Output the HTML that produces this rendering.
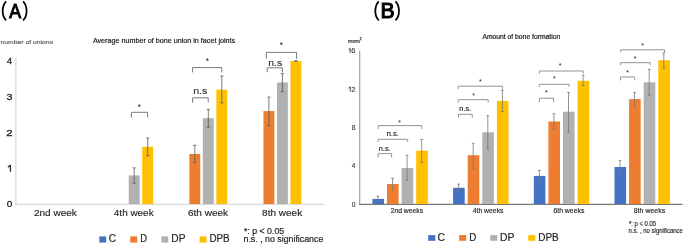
<!DOCTYPE html>
<html><head><meta charset="utf-8"><style>
html,body{margin:0;padding:0;background:#fff;width:685px;height:246px;overflow:hidden}
svg{display:block;font-family:"Liberation Sans",sans-serif}
svg{will-change:transform}
</style></head><body>
<svg width="685" height="246" viewBox="0 0 685 246">
<line x1="15.80" y1="57.80" x2="15.80" y2="204.20" stroke="#e2e2e2" stroke-width="1.7"/>
<line x1="15.00" y1="204.40" x2="323.50" y2="204.40" stroke="#d9d9d9" stroke-width="1.1"/>
<text x="6.66" y="207.45" font-size="9.3" fill="#262626" font-weight="normal" stroke="#262626" stroke-width="0.3" textLength="5.58" lengthAdjust="spacingAndGlyphs">0</text>
<path d="M10.45 165.00 V171.70 M10.6 165.10 L7.9 167.30" stroke="#262626" stroke-width="1.25" fill="none"/>
<text x="6.28" y="135.95" font-size="9.3" fill="#262626" font-weight="normal" stroke="#262626" stroke-width="0.3" textLength="6.34" lengthAdjust="spacingAndGlyphs">2</text>
<text x="6.64" y="100.20" font-size="9.3" fill="#262626" font-weight="normal" stroke="#262626" stroke-width="0.3" textLength="5.98" lengthAdjust="spacingAndGlyphs">3</text>
<text x="6.73" y="64.45" font-size="9.3" fill="#262626" font-weight="normal" stroke="#262626" stroke-width="0.3" textLength="5.41" lengthAdjust="spacingAndGlyphs">4</text>
<rect x="128.75" y="175.40" width="10.90" height="28.60" fill="#B1B1B1"/>
<rect x="142.25" y="146.80" width="10.90" height="57.20" fill="#FFC000"/>
<rect x="189.35" y="153.95" width="10.90" height="50.05" fill="#ED7D31"/>
<rect x="202.85" y="118.20" width="10.90" height="85.80" fill="#B1B1B1"/>
<rect x="216.35" y="89.60" width="10.90" height="114.40" fill="#FFC000"/>
<rect x="263.45" y="111.05" width="10.90" height="92.95" fill="#ED7D31"/>
<rect x="276.95" y="82.45" width="10.90" height="121.55" fill="#B1B1B1"/>
<rect x="290.45" y="61.00" width="10.90" height="143.00" fill="#FFC000"/>
<line x1="134.20" y1="167.90" x2="134.20" y2="183.20" stroke="#595959" stroke-width="0.8"/>
<line x1="132.60" y1="167.90" x2="135.80" y2="167.90" stroke="#595959" stroke-width="0.8"/>
<line x1="132.60" y1="183.20" x2="135.80" y2="183.20" stroke="#595959" stroke-width="0.8"/>
<line x1="147.70" y1="138.00" x2="147.70" y2="155.70" stroke="#595959" stroke-width="0.8"/>
<line x1="146.10" y1="138.00" x2="149.30" y2="138.00" stroke="#595959" stroke-width="0.8"/>
<line x1="146.10" y1="155.70" x2="149.30" y2="155.70" stroke="#595959" stroke-width="0.8"/>
<line x1="194.80" y1="145.30" x2="194.80" y2="162.60" stroke="#595959" stroke-width="0.8"/>
<line x1="193.20" y1="145.30" x2="196.40" y2="145.30" stroke="#595959" stroke-width="0.8"/>
<line x1="193.20" y1="162.60" x2="196.40" y2="162.60" stroke="#595959" stroke-width="0.8"/>
<line x1="208.30" y1="109.40" x2="208.30" y2="127.30" stroke="#595959" stroke-width="0.8"/>
<line x1="206.70" y1="109.40" x2="209.90" y2="109.40" stroke="#595959" stroke-width="0.8"/>
<line x1="206.70" y1="127.30" x2="209.90" y2="127.30" stroke="#595959" stroke-width="0.8"/>
<line x1="221.80" y1="75.90" x2="221.80" y2="102.90" stroke="#595959" stroke-width="0.8"/>
<line x1="220.20" y1="75.90" x2="223.40" y2="75.90" stroke="#595959" stroke-width="0.8"/>
<line x1="220.20" y1="102.90" x2="223.40" y2="102.90" stroke="#595959" stroke-width="0.8"/>
<line x1="268.90" y1="97.10" x2="268.90" y2="125.60" stroke="#595959" stroke-width="0.8"/>
<line x1="267.30" y1="97.10" x2="270.50" y2="97.10" stroke="#595959" stroke-width="0.8"/>
<line x1="267.30" y1="125.60" x2="270.50" y2="125.60" stroke="#595959" stroke-width="0.8"/>
<line x1="282.40" y1="73.70" x2="282.40" y2="91.60" stroke="#595959" stroke-width="0.8"/>
<line x1="280.80" y1="73.70" x2="284.00" y2="73.70" stroke="#595959" stroke-width="0.8"/>
<line x1="280.80" y1="91.60" x2="284.00" y2="91.60" stroke="#595959" stroke-width="0.8"/>
<line x1="295.90" y1="61.00" x2="295.90" y2="61.00" stroke="#595959" stroke-width="0.8"/>
<line x1="294.30" y1="61.00" x2="297.50" y2="61.00" stroke="#595959" stroke-width="0.8"/>
<line x1="294.30" y1="61.00" x2="297.50" y2="61.00" stroke="#595959" stroke-width="0.8"/>
<path d="M131.40 117.50 V112.30 H147.60 V117.50" fill="none" stroke="#7a7a7a" stroke-width="1.0"/>
<text x="139.50" y="110.36" font-size="8.5" fill="#1a1a1a" font-weight="normal" text-anchor="middle">*</text>
<path d="M192.60 102.60 V97.80 H208.20 V102.60" fill="none" stroke="#7a7a7a" stroke-width="1.0"/>
<text x="193.15" y="93.90" font-size="9.8" fill="#262626" font-weight="normal" stroke="#262626" stroke-width="0.1" textLength="14.18" lengthAdjust="spacingAndGlyphs">n.s</text>
<path d="M192.60 72.40 V67.60 H221.80 V72.40" fill="none" stroke="#7a7a7a" stroke-width="1.0"/>
<text x="207.40" y="63.96" font-size="8.5" fill="#1a1a1a" font-weight="normal" text-anchor="middle">*</text>
<path d="M267.20 72.30 V67.80 H282.40 V72.30" fill="none" stroke="#7a7a7a" stroke-width="1.0"/>
<text x="268.16" y="65.60" font-size="9.8" fill="#262626" font-weight="normal" stroke="#262626" stroke-width="0.1" textLength="13.97" lengthAdjust="spacingAndGlyphs">n.s</text>
<path d="M266.30 58.80 V52.40 H296.60 V58.80" fill="none" stroke="#7a7a7a" stroke-width="1.0"/>
<text x="281.40" y="48.46" font-size="8.5" fill="#1a1a1a" font-weight="normal" text-anchor="middle">*</text>
<text x="33.97" y="215.50" font-size="9.7" fill="#262626" font-weight="normal" stroke="#262626" stroke-width="0.15" textLength="42.84" lengthAdjust="spacingAndGlyphs">2nd week</text>
<text x="113.85" y="215.50" font-size="9.7" fill="#262626" font-weight="normal" stroke="#262626" stroke-width="0.15" textLength="39.77" lengthAdjust="spacingAndGlyphs">4th week</text>
<text x="187.96" y="215.50" font-size="9.7" fill="#262626" font-weight="normal" stroke="#262626" stroke-width="0.15" textLength="40.16" lengthAdjust="spacingAndGlyphs">6th week</text>
<text x="262.14" y="215.50" font-size="9.7" fill="#262626" font-weight="normal" stroke="#262626" stroke-width="0.15" textLength="40.08" lengthAdjust="spacingAndGlyphs">8th week</text>
<text x="92.89" y="42.70" font-size="7.3" fill="#1a1a1a" font-weight="normal" stroke="#1a1a1a" stroke-width="0.2" textLength="142.27" lengthAdjust="spacingAndGlyphs">Average number of bone union in facet joints</text>
<text x="0.53" y="44.40" font-size="6.1" fill="#595959" font-weight="normal" stroke="#595959" stroke-width="0.15" textLength="52.54" lengthAdjust="spacingAndGlyphs">number of unions</text>
<rect x="99.30" y="236.40" width="6.90" height="6.20" fill="#4472C4"/>
<text x="108.78" y="242.40" font-size="10.0" fill="#262626" font-weight="normal" stroke="#262626" stroke-width="0.2" textLength="7.30" lengthAdjust="spacingAndGlyphs">C</text>
<rect x="130.30" y="236.40" width="6.90" height="6.20" fill="#ED7D31"/>
<text x="140.22" y="242.40" font-size="10.0" fill="#262626" font-weight="normal" stroke="#262626" stroke-width="0.2" textLength="6.83" lengthAdjust="spacingAndGlyphs">D</text>
<rect x="161.40" y="236.40" width="6.90" height="6.20" fill="#B1B1B1"/>
<text x="171.36" y="242.40" font-size="10.0" fill="#262626" font-weight="normal" stroke="#262626" stroke-width="0.2" textLength="14.18" lengthAdjust="spacingAndGlyphs">DP</text>
<rect x="199.60" y="236.40" width="6.90" height="6.20" fill="#FFC000"/>
<text x="209.50" y="242.40" font-size="10.0" fill="#262626" font-weight="normal" stroke="#262626" stroke-width="0.2" textLength="20.12" lengthAdjust="spacingAndGlyphs">DPB</text>
<text x="243.96" y="233.50" font-size="8.6" fill="#262626" font-weight="normal" stroke="#262626" stroke-width="0.2" textLength="40.21" lengthAdjust="spacingAndGlyphs">*: p &lt; 0.05</text>
<text x="243.52" y="242.30" font-size="8.3" fill="#262626" font-weight="normal" stroke="#262626" stroke-width="0.2" textLength="79.77" lengthAdjust="spacingAndGlyphs">n.s. , no significance</text>
<path transform="translate(1.55,1.0)" d="M 4.6 0.4 C 0.2 5.0, -0.3 14.7, 4.6 19.3" fill="none" stroke="#000" stroke-width="1.75"/>
<text transform="translate(9.29,18.08) scale(0.8557,1)" font-size="20.71" font-weight="normal" fill="#000" stroke="#000" stroke-width="1.05">A</text>
<path transform="translate(27.70,1.0) scale(-1,1)" d="M 4.6 0.4 C 0.2 5.0, -0.3 14.7, 4.6 19.3" fill="none" stroke="#000" stroke-width="1.75"/>
<line x1="359.70" y1="50.60" x2="359.70" y2="204.60" stroke="#999999" stroke-width="1.1"/>
<line x1="359.10" y1="204.30" x2="682.60" y2="204.30" stroke="#777777" stroke-width="1.2"/>
<text x="351.69" y="206.90" font-size="6.8" fill="#333333" font-weight="normal" stroke="#333333" stroke-width="0.1" textLength="3.72" lengthAdjust="spacingAndGlyphs">0</text>
<text x="351.80" y="168.46" font-size="6.8" fill="#333333" font-weight="normal" stroke="#333333" stroke-width="0.1" textLength="3.53" lengthAdjust="spacingAndGlyphs">4</text>
<text x="351.66" y="130.02" font-size="6.8" fill="#333333" font-weight="normal" stroke="#333333" stroke-width="0.1" textLength="3.79" lengthAdjust="spacingAndGlyphs">8</text>
<path d="M350.2 86.68 V91.58 M350.3 86.78 L348.6 88.18" stroke="#333333" stroke-width="0.9" fill="none"/>
<text x="351.37" y="91.58" font-size="6.8" fill="#333333" font-weight="normal" stroke="#333333" stroke-width="0.1" textLength="4.27" lengthAdjust="spacingAndGlyphs">2</text>
<path d="M350.2 48.24 V53.14 M350.3 48.34 L348.6 49.74" stroke="#333333" stroke-width="0.9" fill="none"/>
<text x="351.36" y="53.14" font-size="6.8" fill="#333333" font-weight="normal" stroke="#333333" stroke-width="0.1" textLength="4.22" lengthAdjust="spacingAndGlyphs">6</text>
<text x="347.93" y="43.40" font-size="6.0" fill="#262626" font-weight="normal" stroke="#262626" stroke-width="0.2" textLength="11.95" lengthAdjust="spacingAndGlyphs">mm</text>
<text x="359.67" y="39.80" font-size="4.2" fill="#262626" font-weight="normal" stroke="#262626" stroke-width="0.25" textLength="1.77" lengthAdjust="spacingAndGlyphs">2</text>
<text x="482.39" y="39.20" font-size="6.8" fill="#1a1a1a" font-weight="normal" stroke="#1a1a1a" stroke-width="0.2" textLength="77.85" lengthAdjust="spacingAndGlyphs">Amount of bone formation</text>
<rect x="372.40" y="198.90" width="11.60" height="5.10" fill="#4472C4"/>
<rect x="387.00" y="184.00" width="11.60" height="20.00" fill="#ED7D31"/>
<rect x="401.60" y="168.00" width="11.60" height="36.00" fill="#B1B1B1"/>
<rect x="416.20" y="150.70" width="11.60" height="53.30" fill="#FFC000"/>
<rect x="453.10" y="187.80" width="11.60" height="16.20" fill="#4472C4"/>
<rect x="467.70" y="155.20" width="11.60" height="48.80" fill="#ED7D31"/>
<rect x="482.30" y="132.30" width="11.60" height="71.70" fill="#B1B1B1"/>
<rect x="496.90" y="100.90" width="11.60" height="103.10" fill="#FFC000"/>
<rect x="533.80" y="175.90" width="11.60" height="28.10" fill="#4472C4"/>
<rect x="548.40" y="121.50" width="11.60" height="82.50" fill="#ED7D31"/>
<rect x="563.00" y="111.70" width="11.60" height="92.30" fill="#B1B1B1"/>
<rect x="577.60" y="80.80" width="11.60" height="123.20" fill="#FFC000"/>
<rect x="614.50" y="167.00" width="11.60" height="37.00" fill="#4472C4"/>
<rect x="629.10" y="99.10" width="11.60" height="104.90" fill="#ED7D31"/>
<rect x="643.70" y="82.30" width="11.60" height="121.70" fill="#B1B1B1"/>
<rect x="658.30" y="60.30" width="11.60" height="143.70" fill="#FFC000"/>
<line x1="377.90" y1="196.20" x2="377.90" y2="201.50" stroke="#777777" stroke-width="0.8"/>
<line x1="376.50" y1="196.20" x2="379.30" y2="196.20" stroke="#777777" stroke-width="0.8"/>
<line x1="376.50" y1="201.50" x2="379.30" y2="201.50" stroke="#777777" stroke-width="0.8"/>
<line x1="392.50" y1="178.30" x2="392.50" y2="189.70" stroke="#777777" stroke-width="0.8"/>
<line x1="391.10" y1="178.30" x2="393.90" y2="178.30" stroke="#777777" stroke-width="0.8"/>
<line x1="391.10" y1="189.70" x2="393.90" y2="189.70" stroke="#777777" stroke-width="0.8"/>
<line x1="407.10" y1="155.20" x2="407.10" y2="180.40" stroke="#777777" stroke-width="0.8"/>
<line x1="405.70" y1="155.20" x2="408.50" y2="155.20" stroke="#777777" stroke-width="0.8"/>
<line x1="405.70" y1="180.40" x2="408.50" y2="180.40" stroke="#777777" stroke-width="0.8"/>
<line x1="421.70" y1="139.50" x2="421.70" y2="162.30" stroke="#777777" stroke-width="0.8"/>
<line x1="420.30" y1="139.50" x2="423.10" y2="139.50" stroke="#777777" stroke-width="0.8"/>
<line x1="420.30" y1="162.30" x2="423.10" y2="162.30" stroke="#777777" stroke-width="0.8"/>
<line x1="458.60" y1="184.10" x2="458.60" y2="191.50" stroke="#777777" stroke-width="0.8"/>
<line x1="457.20" y1="184.10" x2="460.00" y2="184.10" stroke="#777777" stroke-width="0.8"/>
<line x1="457.20" y1="191.50" x2="460.00" y2="191.50" stroke="#777777" stroke-width="0.8"/>
<line x1="473.20" y1="143.30" x2="473.20" y2="168.30" stroke="#777777" stroke-width="0.8"/>
<line x1="471.80" y1="143.30" x2="474.60" y2="143.30" stroke="#777777" stroke-width="0.8"/>
<line x1="471.80" y1="168.30" x2="474.60" y2="168.30" stroke="#777777" stroke-width="0.8"/>
<line x1="487.80" y1="115.60" x2="487.80" y2="149.10" stroke="#777777" stroke-width="0.8"/>
<line x1="486.40" y1="115.60" x2="489.20" y2="115.60" stroke="#777777" stroke-width="0.8"/>
<line x1="486.40" y1="149.10" x2="489.20" y2="149.10" stroke="#777777" stroke-width="0.8"/>
<line x1="502.40" y1="90.30" x2="502.40" y2="111.50" stroke="#777777" stroke-width="0.8"/>
<line x1="501.00" y1="90.30" x2="503.80" y2="90.30" stroke="#777777" stroke-width="0.8"/>
<line x1="501.00" y1="111.50" x2="503.80" y2="111.50" stroke="#777777" stroke-width="0.8"/>
<line x1="539.30" y1="170.50" x2="539.30" y2="181.20" stroke="#777777" stroke-width="0.8"/>
<line x1="537.90" y1="170.50" x2="540.70" y2="170.50" stroke="#777777" stroke-width="0.8"/>
<line x1="537.90" y1="181.20" x2="540.70" y2="181.20" stroke="#777777" stroke-width="0.8"/>
<line x1="553.90" y1="113.70" x2="553.90" y2="129.50" stroke="#777777" stroke-width="0.8"/>
<line x1="552.50" y1="113.70" x2="555.30" y2="113.70" stroke="#777777" stroke-width="0.8"/>
<line x1="552.50" y1="129.50" x2="555.30" y2="129.50" stroke="#777777" stroke-width="0.8"/>
<line x1="568.50" y1="92.50" x2="568.50" y2="132.10" stroke="#777777" stroke-width="0.8"/>
<line x1="567.10" y1="92.50" x2="569.90" y2="92.50" stroke="#777777" stroke-width="0.8"/>
<line x1="567.10" y1="132.10" x2="569.90" y2="132.10" stroke="#777777" stroke-width="0.8"/>
<line x1="583.10" y1="75.40" x2="583.10" y2="85.50" stroke="#777777" stroke-width="0.8"/>
<line x1="581.70" y1="75.40" x2="584.50" y2="75.40" stroke="#777777" stroke-width="0.8"/>
<line x1="581.70" y1="85.50" x2="584.50" y2="85.50" stroke="#777777" stroke-width="0.8"/>
<line x1="620.00" y1="160.70" x2="620.00" y2="173.50" stroke="#777777" stroke-width="0.8"/>
<line x1="618.60" y1="160.70" x2="621.40" y2="160.70" stroke="#777777" stroke-width="0.8"/>
<line x1="618.60" y1="173.50" x2="621.40" y2="173.50" stroke="#777777" stroke-width="0.8"/>
<line x1="634.60" y1="92.60" x2="634.60" y2="105.60" stroke="#777777" stroke-width="0.8"/>
<line x1="633.20" y1="92.60" x2="636.00" y2="92.60" stroke="#777777" stroke-width="0.8"/>
<line x1="633.20" y1="105.60" x2="636.00" y2="105.60" stroke="#777777" stroke-width="0.8"/>
<line x1="649.20" y1="69.30" x2="649.20" y2="95.30" stroke="#777777" stroke-width="0.8"/>
<line x1="647.80" y1="69.30" x2="650.60" y2="69.30" stroke="#777777" stroke-width="0.8"/>
<line x1="647.80" y1="95.30" x2="650.60" y2="95.30" stroke="#777777" stroke-width="0.8"/>
<line x1="663.80" y1="53.00" x2="663.80" y2="68.00" stroke="#777777" stroke-width="0.8"/>
<line x1="662.40" y1="53.00" x2="665.20" y2="53.00" stroke="#777777" stroke-width="0.8"/>
<line x1="662.40" y1="68.00" x2="665.20" y2="68.00" stroke="#777777" stroke-width="0.8"/>
<path d="M378.10 157.40 V153.60 H391.60 V157.40" fill="none" stroke="#939393" stroke-width="1.0"/>
<text x="378.79" y="150.80" font-size="6.6" fill="#262626" font-weight="normal" stroke="#262626" stroke-width="0.15" textLength="11.80" lengthAdjust="spacingAndGlyphs">n.s.</text>
<path d="M378.10 142.00 V139.30 H407.70 V142.00" fill="none" stroke="#939393" stroke-width="1.0"/>
<text x="386.68" y="135.60" font-size="6.6" fill="#262626" font-weight="normal" stroke="#262626" stroke-width="0.15" textLength="12.02" lengthAdjust="spacingAndGlyphs">n.s.</text>
<path d="M378.10 128.90 V125.60 H421.90 V128.90" fill="none" stroke="#939393" stroke-width="1.0"/>
<text x="399.60" y="124.99" font-size="7.0" fill="#1a1a1a" font-weight="normal" text-anchor="middle">*</text>
<path d="M458.50 117.70 V114.30 H472.30 V117.70" fill="none" stroke="#939393" stroke-width="1.0"/>
<text x="459.38" y="110.90" font-size="6.4" fill="#262626" font-weight="normal" stroke="#262626" stroke-width="0.15" textLength="12.02" lengthAdjust="spacingAndGlyphs">n.s.</text>
<path d="M458.10 102.50 V99.70 H488.20 V102.50" fill="none" stroke="#939393" stroke-width="1.0"/>
<text x="473.60" y="97.59" font-size="7.0" fill="#1a1a1a" font-weight="normal" text-anchor="middle">*</text>
<path d="M458.10 89.20 V86.20 H502.40 V89.20" fill="none" stroke="#939393" stroke-width="1.0"/>
<text x="480.40" y="83.59" font-size="7.0" fill="#1a1a1a" font-weight="normal" text-anchor="middle">*</text>
<path d="M539.30 102.30 V98.20 H553.60 V102.30" fill="none" stroke="#939393" stroke-width="1.0"/>
<text x="546.30" y="95.29" font-size="7.0" fill="#1a1a1a" font-weight="normal" text-anchor="middle">*</text>
<path d="M539.30 86.80 V84.30 H569.00 V86.80" fill="none" stroke="#939393" stroke-width="1.0"/>
<text x="554.40" y="81.49" font-size="7.0" fill="#1a1a1a" font-weight="normal" text-anchor="middle">*</text>
<path d="M539.30 73.80 V71.00 H583.30 V73.80" fill="none" stroke="#939393" stroke-width="1.0"/>
<text x="560.10" y="68.19" font-size="7.0" fill="#1a1a1a" font-weight="normal" text-anchor="middle">*</text>
<path d="M620.60 80.40 V77.00 H634.70 V80.40" fill="none" stroke="#939393" stroke-width="1.0"/>
<text x="627.60" y="75.29" font-size="7.0" fill="#1a1a1a" font-weight="normal" text-anchor="middle">*</text>
<path d="M620.60 65.20 V62.70 H650.20 V65.20" fill="none" stroke="#939393" stroke-width="1.0"/>
<text x="635.20" y="61.49" font-size="7.0" fill="#1a1a1a" font-weight="normal" text-anchor="middle">*</text>
<path d="M620.60 52.20 V49.80 H664.50 V52.20" fill="none" stroke="#939393" stroke-width="1.0"/>
<text x="642.50" y="48.49" font-size="7.0" fill="#1a1a1a" font-weight="normal" text-anchor="middle">*</text>
<text x="390.63" y="213.40" font-size="6.9" fill="#262626" font-weight="normal" stroke="#262626" stroke-width="0.15" textLength="32.53" lengthAdjust="spacingAndGlyphs">2nd weeks</text>
<text x="472.72" y="213.40" font-size="6.9" fill="#262626" font-weight="normal" stroke="#262626" stroke-width="0.15" textLength="30.76" lengthAdjust="spacingAndGlyphs">4th weeks</text>
<text x="553.42" y="213.40" font-size="6.9" fill="#262626" font-weight="normal" stroke="#262626" stroke-width="0.15" textLength="30.95" lengthAdjust="spacingAndGlyphs">6th weeks</text>
<text x="633.78" y="213.40" font-size="6.9" fill="#262626" font-weight="normal" stroke="#262626" stroke-width="0.15" textLength="31.40" lengthAdjust="spacingAndGlyphs">8th weeks</text>
<rect x="428.20" y="235.10" width="7.10" height="5.70" fill="#4472C4"/>
<text x="437.47" y="241.00" font-size="10.3" fill="#262626" font-weight="normal" stroke="#262626" stroke-width="0.2" textLength="7.53" lengthAdjust="spacingAndGlyphs">C</text>
<rect x="459.10" y="235.10" width="7.10" height="5.70" fill="#ED7D31"/>
<text x="469.30" y="241.00" font-size="10.3" fill="#262626" font-weight="normal" stroke="#262626" stroke-width="0.2" textLength="7.08" lengthAdjust="spacingAndGlyphs">D</text>
<rect x="490.30" y="235.10" width="7.10" height="5.70" fill="#B1B1B1"/>
<text x="500.05" y="241.00" font-size="10.3" fill="#262626" font-weight="normal" stroke="#262626" stroke-width="0.2" textLength="14.40" lengthAdjust="spacingAndGlyphs">DP</text>
<rect x="528.20" y="235.10" width="7.10" height="5.70" fill="#FFC000"/>
<text x="538.18" y="241.00" font-size="10.3" fill="#262626" font-weight="normal" stroke="#262626" stroke-width="0.2" textLength="20.55" lengthAdjust="spacingAndGlyphs">DPB</text>
<text x="628.88" y="226.30" font-size="6.4" fill="#262626" font-weight="normal" stroke="#262626" stroke-width="0.15" textLength="27.29" lengthAdjust="spacingAndGlyphs">*: p &lt; 0.05</text>
<text x="628.58" y="232.60" font-size="6.4" fill="#262626" font-weight="normal" stroke="#262626" stroke-width="0.15" textLength="54.31" lengthAdjust="spacingAndGlyphs">n.s. , no significance</text>
<path transform="translate(374.20,1.0)" d="M 4.6 0.4 C 0.2 5.0, -0.3 14.7, 4.6 19.3" fill="none" stroke="#000" stroke-width="1.75"/>
<text transform="translate(380.57,18.05) scale(0.9830,1)" font-size="21.51" font-weight="normal" fill="#000" stroke="#000" stroke-width="1.1">B</text>
<path transform="translate(400.10,1.0) scale(-1,1)" d="M 4.6 0.4 C 0.2 5.0, -0.3 14.7, 4.6 19.3" fill="none" stroke="#000" stroke-width="1.75"/>
</svg>
</body></html>
